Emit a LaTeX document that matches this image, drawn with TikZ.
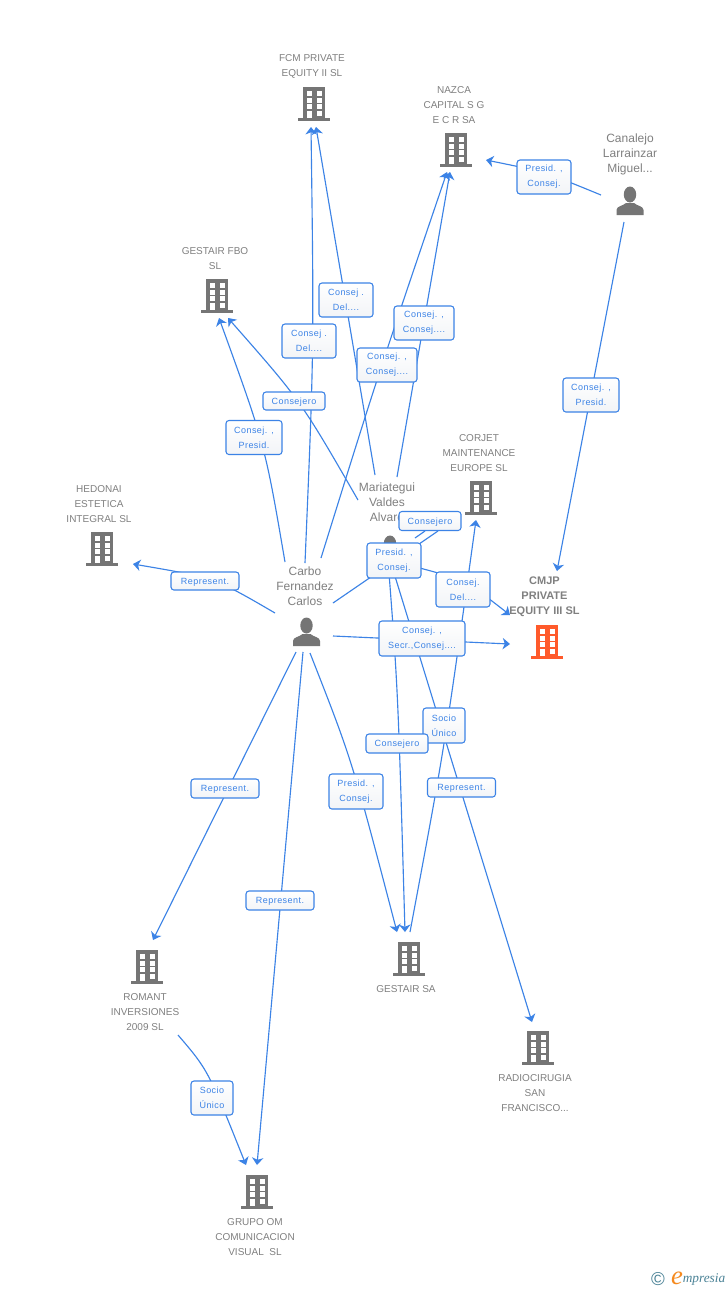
\documentclass[tikz,border=0pt]{standalone}
\usepackage{fontspec}
\setmainfont{Liberation Sans}
\newfontfamily\labfont[LetterSpace=5]{Liberation Sans}
\newfontfamily\logofont{Liberation Serif}
\usetikzlibrary{arrows.meta,calc}
\definecolor{linkblue}{HTML}{3C83E6}
\definecolor{labshade}{HTML}{F2F4F7}
\definecolor{icongrey}{HTML}{757575}
\definecolor{textgrey}{HTML}{808080}
\definecolor{accent}{HTML}{FF5A2B}
\definecolor{logoteal}{HTML}{4A8296}
\definecolor{logoorange}{HTML}{F58A1F}
\tikzset{
  link/.style={draw=linkblue,line width=.85pt,-{Stealth[length=5.5pt,width=8.5pt,inset=1.6pt]}},
  plain/.style={draw=linkblue,line width=.85pt},
  lab/.style n args={2}{draw=linkblue,line width=.8pt,rounded corners=2.2pt,top color=white,bottom color=labshade,
    minimum width=#1*.75pt,minimum height=#2*.75pt,inner sep=0pt,align=center,text=linkblue,
    execute at begin node={\rule{0pt}{6.6pt}},
    font=\labfont\fontsize{6.75}{11.25}\selectfont},
  twoline/.style={execute at begin node={\rule{0pt}{10pt}}},
  bname/.style={text=textgrey,align=center,inner sep=0pt,yshift=-.75pt,font=\fontsize{7.5}{11.25}\selectfont},
  pname/.style={text=textgrey,align=center,inner sep=0pt,yshift=-.75pt,font=\fontsize{9}{11.25}\selectfont},
  mainname/.style={text=textgrey,align=center,inner sep=0pt,yshift=-.75pt,font=\bfseries\fontsize{8.25}{11.25}\selectfont},
  icon/.style={minimum width=24pt,minimum height=25pt,inner sep=0pt},
  building/.pic={
    \fill[pic actions] (-11,-17) rectangle (11,15);
    \fill[pic actions] (-16,14) rectangle (16,17);
    \foreach \yy in {-13,-6,0,7}{
      \fill[white] (-7.5,\yy) rectangle (-2.5,\yy+4.5);
      \fill[white] (2.5,\yy) rectangle (7.5,\yy+4.5);
    }
    \fill[white] (-7.5,7) rectangle (-2.5,14);
  },
  person/.pic={
    \fill[pic actions] (0,-6.5) ellipse [x radius=6.2,y radius=8];
    \fill[pic actions] (-13.5,14) -- (-13.5,9) .. controls (-13.5,5) and (-7,5) .. (-4,2)
      -- (4,2) .. controls (7,5) and (13.5,5) .. (13.5,9) -- (13.5,14) -- cycle;
  }
}
\begin{document}
\begin{tikzpicture}[x=.75pt,y=-.75pt]
\useasboundingbox[fill=white] (0,0) rectangle (728,1290);

% company and person names
\node[bname] (tfcm) at (312,65.5) {FCM PRIVATE\\EQUITY II SL};
\node[bname] (tnazca) at (454,104) {NAZCA\\CAPITAL S G\\E C R SA};
\node[bname] (tfbo) at (215,257.5) {GESTAIR FBO\\SL};
\node[bname] (tcorjet) at (479,452) {CORJET\\MAINTENANCE\\EUROPE SL};
\node[bname] (thedonai) at (99,503) {HEDONAI\\ESTETICA\\INTEGRAL SL};
\node[mainname] (tcmjp) at (544.5,595.5) {CMJP\\PRIVATE\\EQUITY III SL};
\node[pname] (tcanalejo) at (630,153) {Canalejo\\Larrainzar\\Miguel...};
\node[pname] (tmari) at (387,501.5) {Mariategui\\Valdes\\Alvaro};
\node[pname] (tcarbo) at (305,585) {Carbo\\Fernandez\\Carlos};
\node[bname] (tromant) at (145,1011) {ROMANT\\INVERSIONES\\2009 SL};
\node[bname] (tgestair) at (406,988) {GESTAIR SA};
\node[bname] (tradio) at (535,1092) {RADIOCIRUGIA\\SAN\\FRANCISCO...};
\node[bname] (tgrupo) at (255,1236) {GRUPO OM\\COMUNICACION\\VISUAL\ \ SL};

% icons
\node[icon] (fcm) at (314,104) {};     \pic[fill=icongrey] at (fcm) {building};
\node[icon] (nazca) at (456,150) {};   \pic[fill=icongrey] at (nazca) {building};
\node[icon] (fbo) at (217,296) {};     \pic[fill=icongrey] at (fbo) {building};
\node[icon] (corjet) at (481,498) {};  \pic[fill=icongrey] at (corjet) {building};
\node[icon] (hedonai) at (102,549) {}; \pic[fill=icongrey] at (hedonai) {building};
\node[icon] (cmjp) at (547,642) {};    \pic[fill=accent] at (cmjp) {building};
\node[icon] (romant) at (147,967) {};  \pic[fill=icongrey] at (romant) {building};
\node[icon] (gestair) at (409,959) {}; \pic[fill=icongrey] at (gestair) {building};
\node[icon] (radio) at (538,1048) {};  \pic[fill=icongrey] at (radio) {building};
\node[icon] (grupo) at (257,1192) {};  \pic[fill=icongrey] at (grupo) {building};
\node[icon] (canalejo) at (630,201) {};\pic[fill=icongrey] at (canalejo) {person};
\node[icon] (mari) at (390,550) {};    \pic[fill=icongrey] at (mari) {person};
\node[icon] (carbo) at (306.5,632) {}; \pic[fill=icongrey] at (carbo) {person};

% connector ends
\coordinate (cN1) at (305,563);  \coordinate (fcmA) at (311,127);
\coordinate (mN1) at (375,475);  \coordinate (fcmB) at (316,127);
\coordinate (cN2) at (321,558);  \coordinate (nazA) at (447,172);
\coordinate (mN2) at (397,477);  \coordinate (nazB) at (450,172);
\coordinate (caW) at (601,195);  \coordinate (nazC) at (486,160);
\coordinate (caS) at (624,222);  \coordinate (cmA) at (557,571);
\coordinate (cN3) at (285,562);  \coordinate (fboA) at (219,318);
\coordinate (mW) at (358,500);   \coordinate (fboB) at (228,318);
\coordinate (cW) at (275,613);   \coordinate (hedA) at (133,564);
\coordinate (cNE) at (333,603);  \coordinate (cjEnd) at (438,531);
\coordinate (mNE) at (415,538);  \coordinate (cjEndB) at (425,531);
\coordinate (mE) at (416,567);   \coordinate (cmB) at (510,615);
\coordinate (cE) at (333,636);   \coordinate (cmC) at (510,644);
\coordinate (gsB) at (410,932);  \coordinate (corA) at (476,520);
\coordinate (mS1) at (390,560);  \coordinate (radA) at (532,1022);
\coordinate (mS2) at (388,560);  \coordinate (gsC) at (405,932);
\coordinate (cS1) at (310,653);  \coordinate (gsA) at (397,932);
\coordinate (cS2) at (296,652);  \coordinate (romA) at (153,940);
\coordinate (cS3) at (303,652);  \coordinate (gruA) at (257,1165);
\coordinate (romS) at (178,1035);\coordinate (gruB) at (246,1165);

% connectors
\draw[link] (cN1) .. controls (314,350) .. (fcmA);
\draw[link] (mN1) -- (fcmB);
\draw[link] (cN2) .. controls (378,375) .. (nazA);
\draw[link] (mN2) -- (nazB);
\draw[link] (caW) .. controls (545,172) .. (nazC);
\draw[link] (caS) -- (cmA);
\draw[link] (cN3) .. controls (265,445) .. (fboA);
\draw[link] (mW) .. controls (301,401) .. (fboB);
\draw[link] (cW) .. controls (215,578) .. (hedA);
\draw[plain] (cNE) -- (cjEnd);
\draw[plain] (mNE) -- (cjEndB);
\draw[link] (mE) .. controls (465,580) .. (cmB);
\draw[link] (cE) -- (cmC);
\draw[link] (gsB) .. controls (445,745) .. (corA);
\draw[link] (mS1) -- (radA);
\draw[link] (mS2) .. controls (398,690) .. (gsC);
\draw[link] (cS1) .. controls (352,760) .. (gsA);
\draw[link] (cS2) -- (romA);
\draw[link] (cS3) -- (gruA);
\draw[link] (romS) .. controls (208,1070) .. (gruB);

% connector labels
\node[lab={54}{34},twoline] (l1) at (544,177) {Presid. ,\\Consej.};
\node[lab={54}{34},twoline] (l2) at (346,300) {Consej .\\Del....};
\node[lab={54}{34},twoline] (l3) at (309,341) {Consej .\\Del....};
\node[lab={60}{34},twoline] (l4) at (424,323) {Consej. ,\\Consej....};
\node[lab={60}{34},twoline] (l5) at (387,365) {Consej. ,\\Consej....};
\node[lab={62}{18}] (l6) at (294,401) {Consejero};
\node[lab={56}{34},twoline] (l7) at (254,437.5) {Consej. ,\\Presid.};
\node[lab={56}{34},twoline] (l8) at (591,395) {Consej. ,\\Presid.};
\node[lab={68}{18}] (l9) at (205,581) {Represent.};
\node[lab={62}{19}] (l10) at (430,521) {Consejero};
\node[lab={54}{35},twoline] (l11) at (394,560.5) {Presid. ,\\Consej.};
\node[lab={54}{35},twoline] (l12) at (463,589.5) {Consej.\\Del....};
\node[lab={86}{35},twoline] (l13) at (422,638.5) {Consej. ,\\Secr.,Consej....};
\node[lab={42}{35},twoline] (l14) at (444,725.5) {Socio\\Único};
\node[lab={62}{19}] (l15) at (397,743.5) {Consejero};
\node[lab={68}{19}] (l16) at (461.5,787.5) {Represent.};
\node[lab={54}{35},twoline] (l17) at (356,791.5) {Presid. ,\\Consej.};
\node[lab={68}{19}] (l18) at (225,788.5) {Represent.};
\node[lab={68}{19}] (l19) at (280,900.5) {Represent.};
\node[lab={42}{34},twoline] (l20) at (212,1098) {Socio\\Único};

% logo
\node[text=logoteal,inner sep=0pt,font=\fontsize{14}{14}\selectfont] (copy) at (658,1279) {©};
\node[text=logoorange,inner sep=0pt,font=\logofont\itshape\fontsize{20}{20}\selectfont] (logoe) at (677,1278) {e};
\node[text=logoteal,inner sep=0pt,anchor=west,font=\logofont\itshape\fontsize{10}{12}\selectfont] (logot) at (682.5,1279) {mpresia};
\end{tikzpicture}
\end{document}
